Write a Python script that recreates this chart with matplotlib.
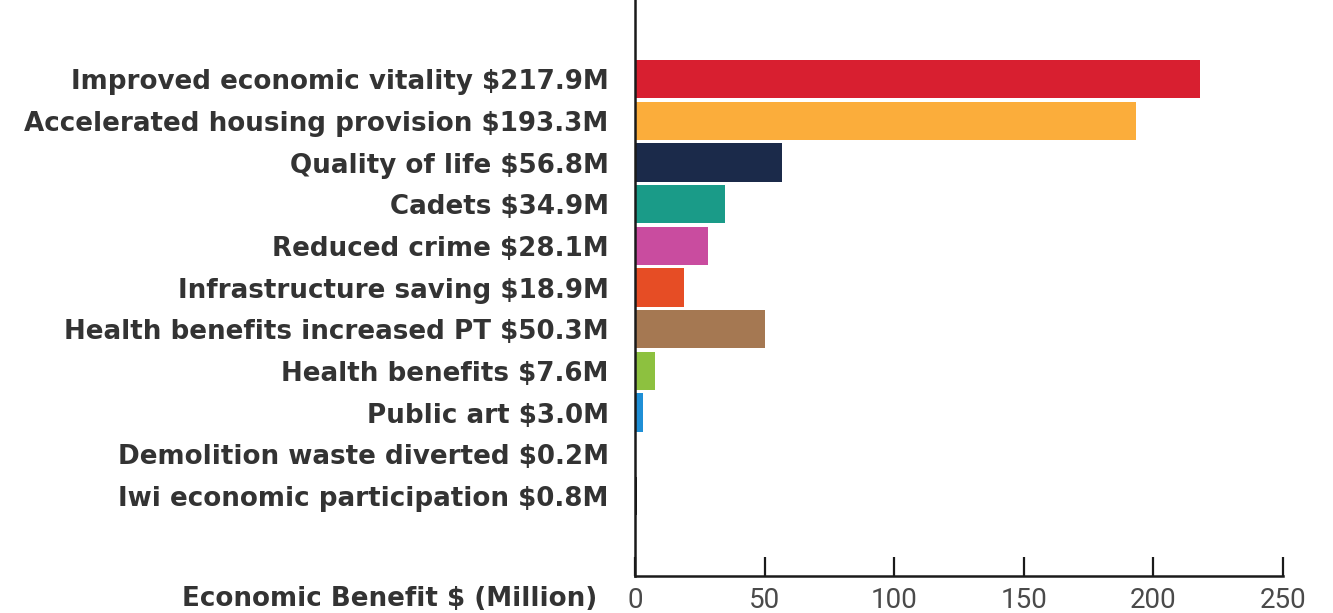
import matplotlib
matplotlib.use("Agg")
import matplotlib.pyplot as plt
from matplotlib import font_manager

names = [f.name for f in font_manager.fontManager.ttflist]
tick_font = [n for n in ["Liberation Sans Narrow", "Roboto", "DejaVu Sans"] if n in names][0]
label_font = "DejaVu Sans"

# data, top to bottom
categories = [
    "Improved economic vitality",
    "Accelerated housing provision",
    "Quality of life",
    "Cadets",
    "Reduced crime",
    "Infrastructure saving",
    "Health benefits increased PT",
    "Health benefits",
    "Public art",
    "Demolition waste diverted",
    "Iwi economic participation",
]
values = [217.9, 193.3, 56.8, 34.9, 28.1, 18.9, 50.3, 7.6, 3.0, 0.2, 0.8]
colors = ["#D81F30", "#FBAD3B", "#1B2A4A", "#1A9B88", "#C94C9F", "#E64D25",
          "#A57852", "#8DC13F", "#1F8FD6", "#9A9A9A", "#1A1A1A"]
xticks = [0, 50, 100, 150, 200, 250]

labels = [f"{c} ${v:.1f}M" for c, v in zip(categories, values)]
ypos = list(range(len(values) - 1, -1, -1))

fig = plt.figure(figsize=(13.33, 6.13), dpi=100)
ax = fig.add_axes([0.4764, 0.0603, 0.4861, 0.9397])

ax.barh(ypos, values, height=0.92, color=colors, linewidth=0)

ax.set_xlim(0, 250)
ax.set_ylim(-1.92, 11.9)
ax.set_xticks(xticks)
ax.set_yticks(ypos)
ax.set_yticklabels(labels, fontfamily=label_font, fontweight="bold",
                   fontsize=18.8, color="#333333")
ax.tick_params(axis="y", length=0, pad=19)
ax.tick_params(axis="x", direction="in", length=14, width=1.6, pad=8,
               labelsize=20, labelcolor="#4a4a4a", color="#1a1a1a")
for t in ax.get_xticklabels():
    t.set_fontfamily(tick_font)

for s in ["top", "right"]:
    ax.spines[s].set_visible(False)
for s in ["left", "bottom"]:
    ax.spines[s].set_linewidth(1.8)
    ax.spines[s].set_color("#1a1a1a")

ax.set_xlabel("Economic Benefit $ (Million)", fontfamily=label_font,
              fontweight="bold", fontsize=18.8, color="#333333",
              ha="right", va="center")
ax.xaxis.set_label_coords(-0.058, -0.04)

fig.savefig("out.png", dpi=100)
